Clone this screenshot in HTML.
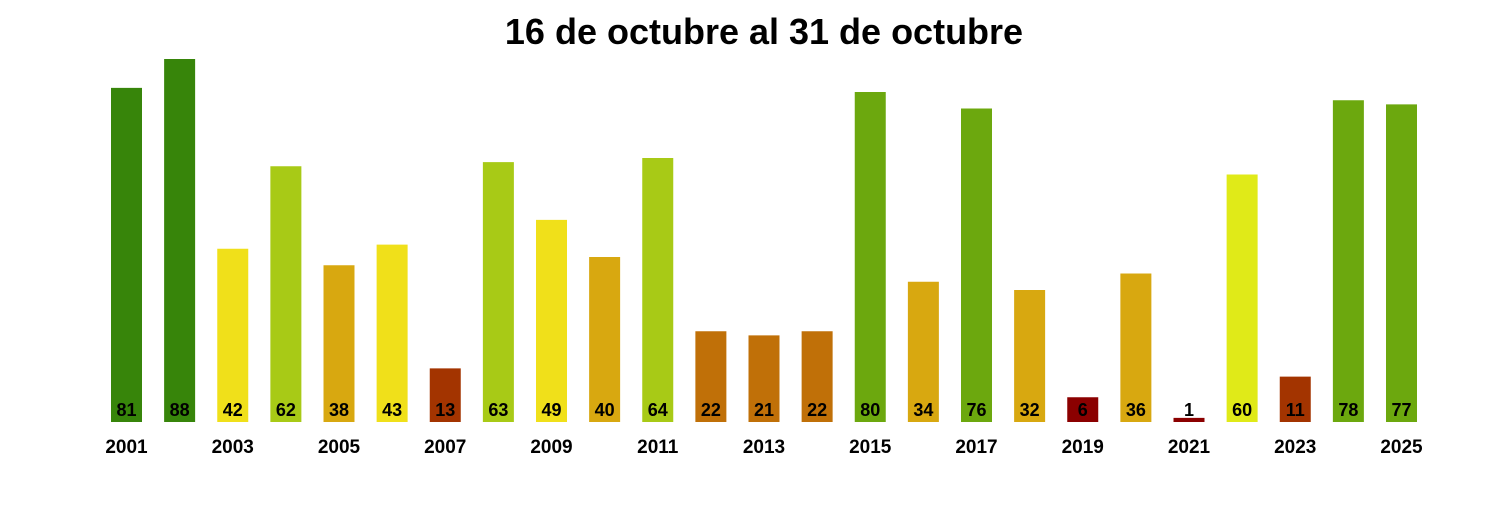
<!DOCTYPE html>
<html><head><meta charset="utf-8"><style>
body{margin:0;background:#fff;}
svg text{font-family:"Liberation Sans",Arial,sans-serif;font-weight:bold;}
</style></head><body>
<svg width="1500" height="500" xmlns="http://www.w3.org/2000/svg">
<rect width="1500" height="500" fill="#fff"/>
<text x="764" y="44" font-size="36" text-anchor="middle" fill="#000">16 de octubre al 31 de octubre</text>
<g id="bars"></g>
</svg>
<script>
var v=[81,88,42,62,38,43,13,63,49,40,64,22,21,22,80,34,76,32,6,36,1,60,11,78,77];
function col(x){if(x>=81)return"#37850a";if(x>=65)return"#6ca80e";if(x==60)return"#e0ea18";if(x>=50)return"#a8ca16";if(x>=41)return"#f0e01a";if(x>=25)return"#d8a810";if(x>=15)return"#c07008";if(x>=8)return"#a33400";return"#8b0000";}
var g=document.getElementById("bars"),s="";
for(var i=0;i<v.length;i++){var cx=126.5+i*53.125,h=v[i]*4.125;
s+='<rect x="'+(cx-15.5)+'" y="'+(422-h)+'" width="31" height="'+h+'" fill="'+col(v[i])+'"/>';
s+='<text x="'+cx+'" y="416" font-size="18" text-anchor="middle" fill="#000">'+v[i]+'</text>';
if(i%2==0)s+='<text x="'+cx+'" y="453" font-size="19" text-anchor="middle" fill="#000">'+(2001+i)+'</text>';}
g.innerHTML=s;
</script>
</body></html>
